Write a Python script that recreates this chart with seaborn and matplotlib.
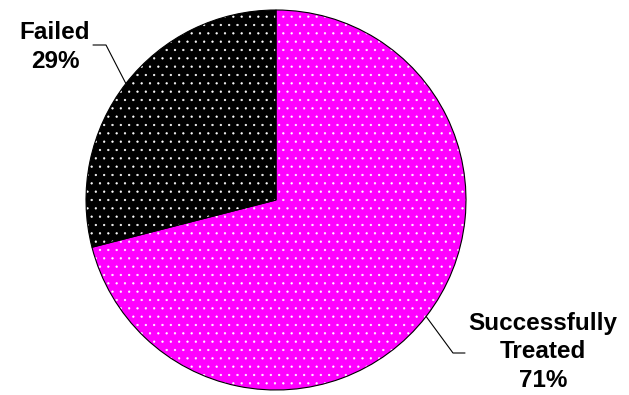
import matplotlib
matplotlib.use("Agg")
import matplotlib.pyplot as plt
import numpy as np
import seaborn as sns

# Treatment outcome shares
categories = ["Successfully\nTreated", "Failed"]
shares = [71, 29]
colors = ["#FF00FF", "#000000"]

sns.set_style("white")
plt.rcParams["font.family"] = ["Liberation Sans", "DejaVu Sans"]
plt.rcParams["hatch.linewidth"] = 0.4

fig = plt.figure(figsize=(6.29, 3.95), dpi=100)
ax = fig.add_axes([0, 0, 1, 1])

center = (276, 195)
radius = 190

# dotted fill: hatch drawn in white, then a black outline on top
wedges, _ = ax.pie(shares, colors=colors, startangle=90, counterclock=False,
                   center=center, radius=radius, frame=True,
                   wedgeprops=dict(edgecolor="white", linewidth=0, hatch=".."))
ax.pie(shares, colors=["none", "none"], startangle=90, counterclock=False,
       center=center, radius=radius, frame=True,
       wedgeprops=dict(edgecolor="black", linewidth=0.8, fill=False))
ax.set_xlim(0, 629)
ax.set_ylim(0, 395)
ax.set_aspect("equal")
ax.axis("off")

# label placement: (text x, text y, elbow x, elbow y, line end x)
placements = {
    "Successfully\nTreated": (543, 43, 453, 42, 465),
    "Failed": (55, 348, 106, 350, 93),
}

for w, cat, val in zip(wedges, categories, shares):
    mid = np.deg2rad((w.theta1 + w.theta2) / 2)
    ex = center[0] + radius * np.cos(mid)
    ey = center[1] + radius * np.sin(mid)
    tx, ty, bx, by, lx = placements[cat]
    ax.plot([ex, bx, lx], [ey, by, by], color="black", lw=0.8)
    ax.text(tx, ty, f"{cat}\n{val}%", ha="center", va="center", color="black",
            fontsize=17.5, fontweight="bold", linespacing=1.32)

fig.savefig("out.png", dpi=100)
